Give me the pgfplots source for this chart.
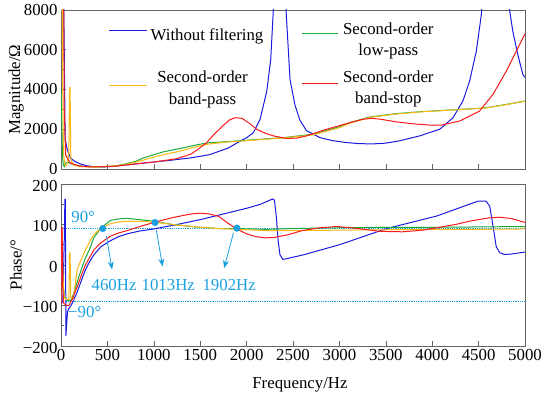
\documentclass[border=0pt]{standalone}
\usepackage{pgfplots}
\pgfplotsset{compat=1.18}
\usepackage{fontspec}
\setmainfont{Liberation Serif}
\usetikzlibrary{arrows.meta}
\definecolor{myblue}{RGB}{25,25,225}
\definecolor{mygreen}{RGB}{25,170,60}
\definecolor{myyellow}{RGB}{250,185,20}
\definecolor{myred}{RGB}{250,25,25}
\definecolor{lgblue}{RGB}{26,24,226}
\definecolor{lggreen}{RGB}{26,171,61}
\definecolor{lgyellow}{RGB}{251,186,21}
\definecolor{lgred}{RGB}{251,26,26}
\definecolor{mycyan}{RGB}{25,160,225}
\definecolor{cyanA}{RGB}{26,161,226}
\definecolor{cyanB}{RGB}{27,162,227}
\definecolor{myaxis}{RGB}{100,100,100}
\begin{document}
\begin{tikzpicture}[font=\fontsize{16.8bp}{20.5bp}\selectfont]
\path[use as bounding box] (0,0) rectangle (550bp,400bp);
\pgfplotsset{
  every axis/.append style={
    scale only axis, width=464bp, anchor=south west,
    xmin=0, xmax=5000, xtick={0,500,...,5000},
    tick align=inside, tick pos=left, minor y tick num=1,
    major tick length=5bp, minor tick length=3bp,
    axis line style={myaxis, line width=0.8pt},
    every tick/.style={myaxis, line width=0.6pt},
    /pgf/number format/1000 sep={},
    /pgf/number format/assume math mode=true,
    ylabel style={at={(axis description cs:-0.097,0.5)}, anchor=center},
  },
}
\begin{axis}[
  at={(61bp,231bp)}, height=159bp,
  ymin=0, ymax=8000, ytick={0,2000,...,8000},
  xticklabels={},
  ylabel={Magnitude/Ω},
]
% without filtering
\addplot[myblue, line width=1pt] coordinates {
(0,12000)(20,12000)(35,6000)(45,1500)(66,1000)(102,550)(150,380)(210,250)(280,160)(355,120)(450,110)(550,120)(700,200)(890,300)(1000,350)(1200,450)(1400,560)(1600,720)(1800,1050)(1930,1400)(2002,1580)(2073,1830)(2145,2500)(2217,3900)(2260,5500)(2288,8000)(2310,12000)(2330,25000)(2356,60000)(2380,25000)(2400,12000)(2425,8000)(2468,4500)(2522,3200)(2575,2450)(2647,1920)(2790,1580)(2933,1420)(3077,1330)(3200,1280)(3350,1260)(3500,1300)(3650,1420)(3866,1667)(4081,2000)(4224,2580)(4331,3420)(4403,4420)(4475,5920)(4529,7750)(4560,9500)(4600,14000)(4650,30000)(4690,60000)(4740,25000)(4790,12000)(4834,8000)(4869,6920)(4923,5750)(4977,4750)(5000,4600)
};
% low-pass
\addplot[mygreen, line width=1pt] coordinates {
(0,4000)(8,2500)(15,800)(25,200)(35,120)(50,300)(70,350)(100,280)(150,200)(200,150)(300,110)(400,100)(500,115)(600,170)(700,260)(800,380)(890,560)(1000,720)(1100,860)(1250,1000)(1400,1150)(1500,1250)(1600,1320)(1800,1380)(1930,1420)(2100,1480)(2400,1580)(2720,1750)(3000,2130)(3110,2330)(3330,2620)(3600,2780)(3866,2880)(4200,2970)(4583,3080)(4800,3250)(5000,3420)
};
% band-pass
\addplot[myyellow, line width=1pt] coordinates {
(0,9000)(12,9000)(20,3000)(30,600)(45,150)(65,200)(85,800)(92,4100)(98,4100)(106,500)(130,200)(200,120)(355,100)(500,125)(600,160)(700,230)(890,450)(1000,600)(1100,720)(1250,860)(1400,1050)(1500,1170)(1600,1260)(1800,1360)(1930,1400)(2100,1460)(2400,1560)(2720,1720)(3000,2080)(3110,2300)(3330,2600)(3600,2760)(3866,2870)(4200,2960)(4583,3070)(4800,3240)(5000,3410)
};
% band-stop
\addplot[myred, line width=1pt] coordinates {
(0,12000)(25,12000)(35,3000)(50,700)(100,300)(200,150)(300,110)(400,110)(600,150)(890,300)(1000,350)(1250,520)(1400,750)(1480,1000)(1570,1330)(1650,1750)(1750,2200)(1820,2480)(1880,2580)(1950,2550)(2030,2300)(2109,2000)(2200,1800)(2288,1667)(2432,1533)(2550,1560)(2647,1667)(2862,2000)(3113,2330)(3250,2500)(3350,2550)(3450,2500)(3600,2380)(3800,2270)(4000,2200)(4100,2210)(4300,2420)(4511,2917)(4654,3750)(4798,4917)(4905,5917)(5000,6800)
};
% legend
\draw[lgblue, line width=1pt] (axis description cs:0.103,0.868) -- (axis description cs:0.185,0.868);
\node[anchor=base] at (axis description cs:0.3147,0.811) {Without filtering};
\draw[lggreen, line width=1pt] (axis description cs:0.519,0.853) -- (axis description cs:0.597,0.853);
\node[anchor=base] at (axis description cs:0.7054,0.849) {Second-order};
\node[anchor=base] at (axis description cs:0.7054,0.713) {low-pass};
\draw[lgyellow, line width=1pt] (axis description cs:0.103,0.524) -- (axis description cs:0.185,0.524);
\node[anchor=base] at (axis description cs:0.305,0.543) {Second-order};
\node[anchor=base] at (axis description cs:0.305,0.403) {band-pass};
\draw[lgred, line width=1pt] (axis description cs:0.519,0.535) -- (axis description cs:0.597,0.535);
\node[anchor=base] at (axis description cs:0.7054,0.543) {Second-order};
\node[anchor=base] at (axis description cs:0.7054,0.413) {band-stop};
\end{axis}
\begin{axis}[
  at={(61bp,54bp)}, height=162bp,
  ymin=-200, ymax=200, ytick={-200,-100,0,100,200},
  yticklabels={−200,−100,0,100,200},
  yticklabel style={yshift=-1.5bp},
  ylabel={Phase/°},
  xlabel={Frequency/Hz},
  xlabel style={at={(axis description cs:0.515,-0.24)}, anchor=center},
]
\addplot[cyanA, densely dotted, line width=0.8pt] coordinates {(0,90)(5000,90)};
\addplot[cyanB, densely dotted, line width=0.8pt] coordinates {(0,-90)(5000,-90)};
% without filtering
\addplot[myblue, line width=1pt] coordinates {
(0,-95)(20,-90)(35,60)(42,162)(46,162)(50,0)(53,-175)(60,-150)(70,-115)(84,-108)(120,-95)(174,-67)(220,-38)(263,-12)(300,5)(353,25)(430,45)(532,60)(620,70)(712,77)(850,84)(1000,89)(1250,100)(1500,112)(1750,126)(2000,140)(2150,150)(2250,160)(2280,163)(2300,160)(2320,120)(2340,60)(2360,25)(2390,14)(2420,15)(2610,25)(3000,50)(3510,90)(4050,121)(4400,150)(4500,158)(4580,158)(4620,145)(4660,90)(4690,45)(4730,30)(4780,26)(4850,27)(5000,32)
};
% low-pass
\addplot[mygreen, line width=1pt] coordinates {
(0,90)(8,88)(15,20)(22,-50)(40,-80)(70,-88)(102,-88)(140,-70)(174,-42)(220,-10)(263,17)(310,40)(353,67)(425,90)(532,110)(620,114)(712,115)(850,112)(1000,108)(1200,100)(1500,93)(1700,90)(1900,90)(2200,88)(2500,90)(3000,92)(3500,93)(4000,93)(4500,94)(5000,95)
};
% band-pass
\addplot[myyellow, line width=1pt] coordinates {
(0,85)(10,82)(18,0)(28,-70)(50,-85)(85,-85)(92,30)(98,30)(105,-80)(130,-85)(174,-12)(220,15)(263,37)(310,58)(353,75)(425,90)(532,102)(620,106)(712,108)(850,108)(1000,106)(1200,100)(1500,93)(1700,90)(1900,88)(2200,85)(2500,85)(3000,86)(3500,87)(4000,88)(4500,88)(5000,89)
};
% band-stop
\addplot[myred, line width=1pt] coordinates {
(0,-95)(4,92)(12,92)(18,-50)(30,-95)(60,-100)(84,-100)(120,-85)(174,-54)(220,-25)(263,0)(353,37)(430,55)(532,71)(620,79)(712,85)(850,95)(1000,105)(1200,117)(1400,126)(1500,128)(1600,126)(1700,120)(1800,103)(1900,88)(2000,77)(2100,70)(2200,67)(2300,68)(2450,75)(2600,85)(2790,92)(2975,95)(3200,90)(3440,83)(3680,82)(3900,86)(4050,92)(4250,100)(4400,108)(4600,116)(4720,118)(4850,115)(5000,105)
};
\addplot[mycyan, only marks, mark=*, mark size=3.3pt] coordinates {(450,90)(1013,105)(1895,91)};
\draw[mycyan, line width=0.8pt, -{Stealth[length=8bp,width=6bp]}] (axis cs:490,71) -- (axis cs:550,-11);
\draw[mycyan, line width=0.8pt, -{Stealth[length=8bp,width=6bp]}] (axis cs:1027,87) -- (axis cs:1095,-4);
\draw[mycyan, line width=0.8pt, -{Stealth[length=8bp,width=6bp]}] (axis cs:1858,79) -- (axis cs:1757,-8);
\node[mycyan, anchor=west] at (axis cs:75,118) {90°};
\node[mycyan, anchor=west] at (axis cs:40,-115) {−90°};
\node[mycyan] at (axis cs:572,-50) {460Hz};
\node[mycyan] at (axis cs:1156,-50) {1013Hz};
\node[mycyan] at (axis cs:1812,-50) {1902Hz};
\end{axis}
\end{tikzpicture}
\end{document}
